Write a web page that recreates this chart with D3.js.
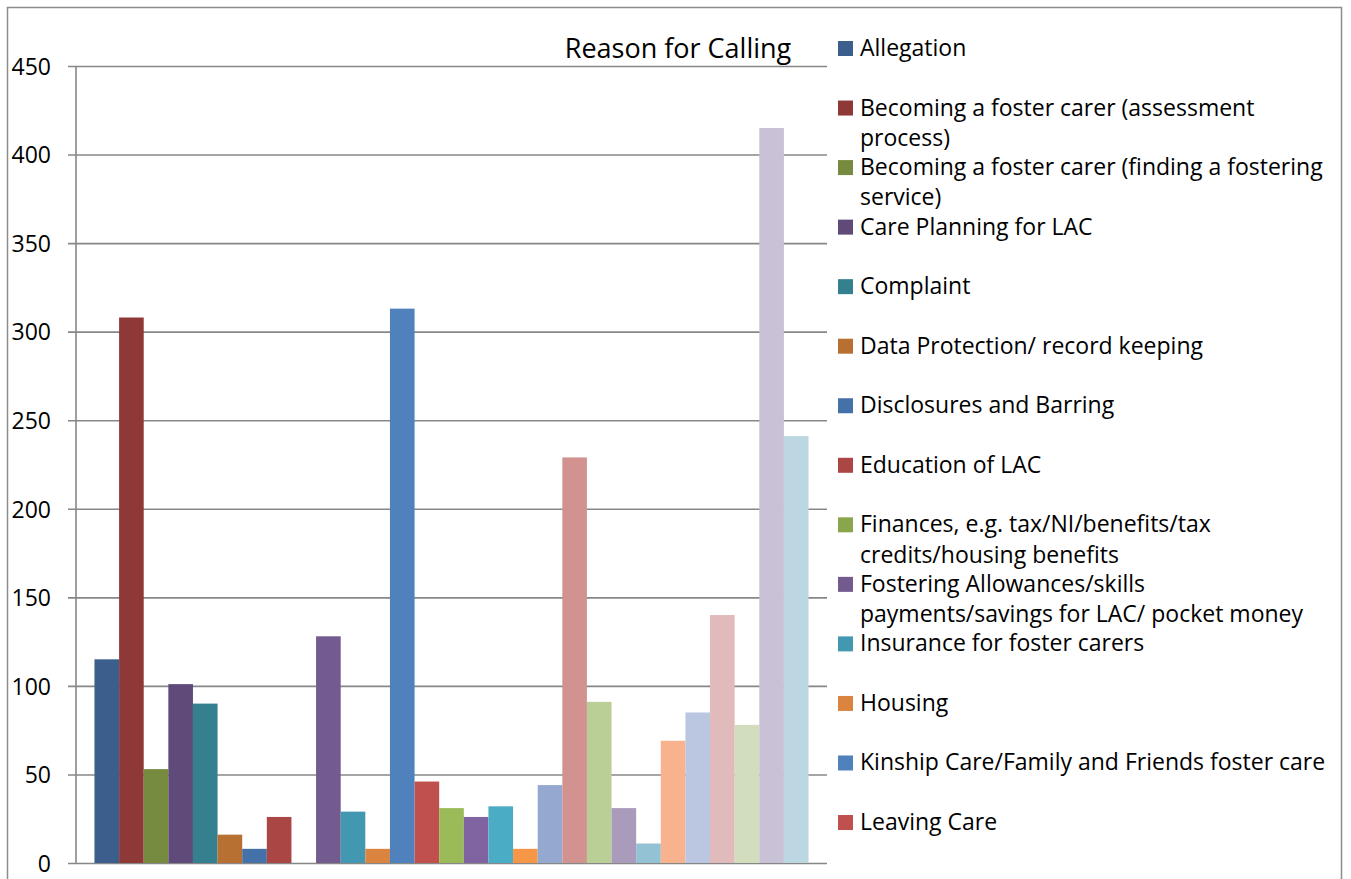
<!DOCTYPE html>
<html>
<head>
<meta charset="utf-8">
<script src="https://cdn.jsdelivr.net/npm/d3@7/dist/d3.min.js"></script>
<style>
  html, body { margin: 0; padding: 0; background: #fff; }
  svg { display: block; }
  text { font-family: "Open Sans", sans-serif; fill: #000; }
</style>
</head>
<body>
<svg id="chart" width="1351" height="879"></svg>
<script>
// Calls logged per reason (one bar per series, Excel-style single category)
const calls = [115, 308, 53, 101, 90, 16, 8, 26, 0, 128, 29, 8, 313, 46,
               31, 26, 32, 8, 44, 229, 91, 31, 11, 69, 85, 140, 78, 415, 241];

// Series fill colours, cycling through dark / normal / light theme shades
const barColors = [
  "#3b5e8c", "#8e3937", "#768a40", "#5f4a7a", "#35808f", "#b86f32",
  "#4471a8", "#aa4644", "#8aa64c", "#735a8f", "#4298b0", "#db8440",
  "#4f81bd", "#c0504d", "#9bbb59", "#8064a2", "#4bacc6", "#f79646",
  "#95a9d0", "#d29290", "#bacf96", "#aa9bbd", "#92c2d3", "#f8b38e",
  "#bbc7e0", "#e1bbbb", "#d1ddbd", "#c9c1d6", "#bcd7e2"
];

// Legend entries shown (line breaks where the legend wraps)
const reasons = [
  "Allegation",
  "Becoming a foster carer (assessment\nprocess)",
  "Becoming a foster carer (finding a fostering\nservice)",
  "Care Planning for LAC",
  "Complaint",
  "Data Protection/ record keeping",
  "Disclosures and Barring",
  "Education of LAC",
  "Finances, e.g. tax/NI/benefits/tax\ncredits/housing benefits",
  "Fostering Allowances/skills\npayments/savings for LAC/ pocket money",
  "Insurance for foster carers",
  "Housing",
  "Kinship Care/Family and Friends foster care",
  "Leaving Care"
];

const yTicks = [0, 50, 100, 150, 200, 250, 300, 350, 400, 450];
const title = "Reason for Calling";

const svg = d3.select("#chart");

// outer chart border
svg.append("rect")
  .attr("x", 7.5).attr("y", 7.5)
  .attr("width", 1334).attr("height", 900)
  .attr("fill", "none").attr("stroke", "#8c8c8c").attr("stroke-width", 1.5);

const plot = { left: 76, right: 827, top: 66, bottom: 863 };

const y = d3.scaleLinear().domain([0, 450]).range([plot.bottom, plot.top]);
const x = d3.scaleBand()
  .domain(d3.range(calls.length))
  .range([plot.left, plot.right])
  .paddingInner(0)
  .paddingOuter(0.75);

// gridlines with left tick stubs
const yAxis = d3.axisLeft(y)
  .tickValues(yTicks)
  .tickSize(-(plot.right - plot.left))
  .tickFormat(d3.format("d"));

const gAxis = svg.append("g")
  .attr("transform", `translate(${plot.left},0)`)
  .call(yAxis);
gAxis.select(".domain").remove();
gAxis.selectAll(".tick line")
  .attr("x1", -8)
  .attr("stroke", "#878787")
  .attr("stroke-width", 1.6);
gAxis.selectAll(".tick text")
  .attr("x", -25)
  .attr("dy", "0.36em")
  .style("font-size", "23px")
  .style("font-family", "'Open Sans', sans-serif")
  .attr("fill", "#000");

// vertical value axis line
svg.append("line")
  .attr("x1", plot.left).attr("x2", plot.left)
  .attr("y1", plot.top).attr("y2", plot.bottom)
  .attr("stroke", "#878787").attr("stroke-width", 1.6);

// bars
svg.append("g")
  .selectAll("rect")
  .data(calls)
  .join("rect")
  .attr("x", (d, i) => x(i))
  .attr("width", x.bandwidth())
  .attr("y", d => y(d))
  .attr("height", d => y(0) - y(d))
  .attr("fill", (d, i) => barColors[i]);

// title
svg.append("text")
  .attr("x", 678).attr("y", 58)
  .attr("text-anchor", "middle")
  .style("font-size", "27px")
  .text(title);

// legend
const legend = svg.append("g").attr("transform", "translate(838,0)");
const rowStep = 59.54, lineH = 30.3;
reasons.forEach((name, i) => {
  const cy = 48.5 + i * rowStep;
  legend.append("rect")
    .attr("x", 0).attr("y", cy - 7.5)
    .attr("width", 15).attr("height", 15)
    .attr("fill", barColors[i]);
  const t = legend.append("text")
    .attr("x", 22).attr("y", cy + 7.5)
    .style("font-size", "23px");
  name.split("\n").forEach((line, k) => {
    t.append("tspan").attr("x", 22).attr("dy", k === 0 ? 0 : lineH).text(line);
  });
});
</script>
</body>
</html>
